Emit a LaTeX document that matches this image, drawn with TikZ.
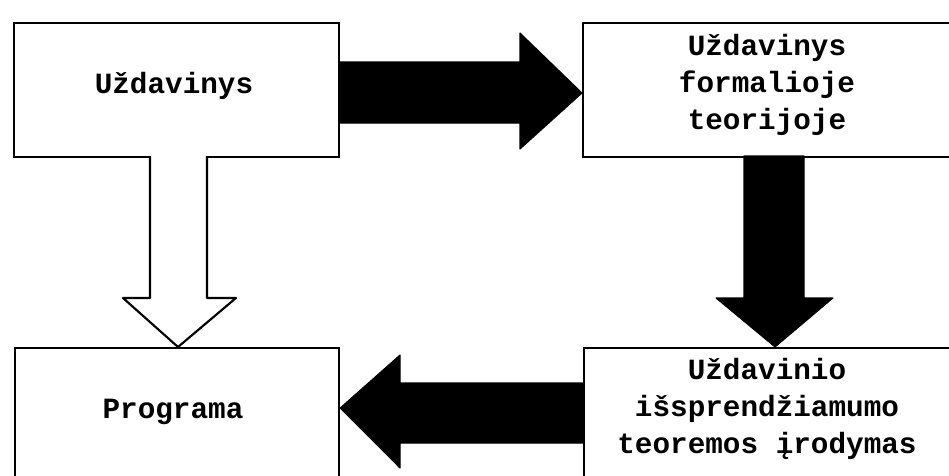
\documentclass[tikz,border=0pt]{standalone}
\usepackage{fontspec}
\newfontfamily\boxfont{Liberation Mono}
\begin{document}
\begin{tikzpicture}[x=0.75pt,y=-0.75pt,
  box/.style={draw=black,line width=1.6pt,fill=white,rectangle,anchor=north west,inner sep=0pt},
  txt/.style={font=\boxfont\bfseries\fontsize{22}{27.5}\selectfont,align=center,inner sep=0pt},
  blockblack/.style={fill=black,draw=black,line width=0.8pt,line join=round},
  blockwhite/.style={fill=white,draw=black,line width=1.6pt,line join=round}]
\useasboundingbox (0,0) rectangle (949,475);
\clip (0,0) rectangle (949,475);
% boxes
\node[box,minimum width=325*0.75pt,minimum height=134*0.75pt] (b1) at (13,22) {};
\node[box,minimum width=370*0.75pt,minimum height=134*0.75pt] (b2) at (582,22) {};
\node[box,minimum width=324*0.75pt,minimum height=143*0.75pt] (b3) at (14,347) {};
\node[box,minimum width=369*0.75pt,minimum height=143*0.75pt] (b4) at (583,347) {};
% texts
\node[txt] (t1) at (174,86) {Uždavinys};
\node[txt] (t2) at (767,85) {Uždavinys\\formalioje\\teorijoje};
\node[txt] (t3) at (173,412) {Programa};
\node[txt] (t4) at (767,409) {Uždavinio\\išsprendžiamumo\\teoremos įrodymas};
% connectors
\coordinate (r0) at (b1.east |- 0,92.5);
\coordinate (r1) at (b2.west |- 0,93);
\fill[blockblack] (r0 |- 0,62) -- (520,62) -- (520,33) -- (r1) -- (520,149) -- (520,123) -- (r0 |- 0,123) -- cycle;
\coordinate (d1) at (b3.north -| 178,0);
\filldraw[blockwhite] (150,156) -- (150,298) -- (123,298) -- (d1) -- (236,298) -- (207,298) -- (207,156);
\coordinate (e1) at (b4.north -| 775,0);
\fill[blockblack] (744,156) -- (744,298) -- (716,298) -- (e1) -- (833,298) -- (804,298) -- (804,156) -- cycle;
\coordinate (l0) at (b4.west |- 0,413);
\coordinate (l1) at (b3.east |- 0,408);
\fill[blockblack] (l0 |- 0,383) -- (400,383) -- (400,355) -- (l1) -- (400,468) -- (400,443) -- (l0 |- 0,443) -- cycle;
\end{tikzpicture}
\end{document}
